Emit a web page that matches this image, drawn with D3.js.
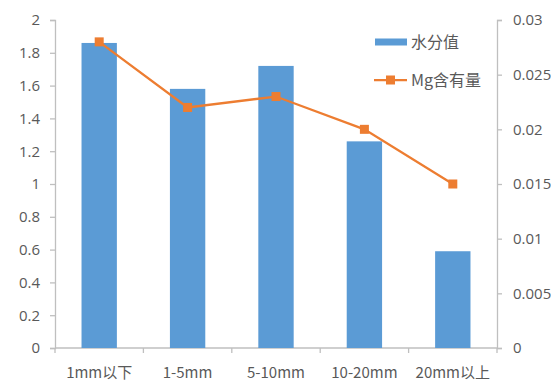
<!DOCTYPE html>
<html>
<head>
<meta charset="utf-8">
<script src="https://cdn.jsdelivr.net/npm/d3@7"></script>
<style>
  html, body { margin: 0; padding: 0; background: #fff; }
  svg { display: block; }
  text { font-family: "Noto Sans CJK SC", "Open Sans", sans-serif; fill: #595959; }
</style>
</head>
<body>
<svg id="chart" width="551" height="381"></svg>
<script>
// Particle size classes
const categories = ["1mm以下", "1-5mm", "5-10mm", "10-20mm", "20mm以上"];
// Moisture value (left axis)
const moisture = [1.86, 1.58, 1.72, 1.26, 0.59];
// Mg content (right axis)
const mgContent = [0.028, 0.022, 0.023, 0.020, 0.015];
const leftTicks = [0, 0.2, 0.4, 0.6, 0.8, 1, 1.2, 1.4, 1.6, 1.8, 2];
const rightTicks = [0, 0.005, 0.01, 0.015, 0.02, 0.025, 0.03];
const seriesNames = ["水分值", "Mg含有量"];

const barColor = "#5b9bd5";
const lineColor = "#ed7d31";
const axisColor = "#bfbfbf";

const svg = d3.select("#chart");
const plot = { left: 55, right: 497, top: 20, bottom: 348 };

const x = d3.scaleBand().domain(categories).range([plot.left, plot.right]).paddingInner(0.6).paddingOuter(0.3);
const xOuter = d3.scaleBand().domain(categories).range([plot.left, plot.right]);
const yL = d3.scaleLinear().domain([0, 2]).range([plot.bottom, plot.top]);
const yR = d3.scaleLinear().domain([0, 0.03]).range([plot.bottom, plot.top]);

// Left axis
const leftAxis = svg.append("g").attr("transform", `translate(${plot.left},0)`)
  .call(d3.axisLeft(yL).tickValues(leftTicks).tickSize(5).tickPadding(10).tickFormat(d3.format("~g")));
// Right axis
const rightAxis = svg.append("g").attr("transform", `translate(${plot.right},0)`)
  .call(d3.axisRight(yR).tickValues(rightTicks).tickSize(5).tickPadding(11).tickFormat(d3.format("~g")));
[leftAxis, rightAxis].forEach(g => {
  g.select(".domain").attr("stroke", axisColor).attr("stroke-width", 1.3);
  g.selectAll(".tick line").attr("stroke", axisColor).attr("stroke-width", 1.3);
  g.selectAll(".tick text").attr("fill", "#595959").style("font-size", "15px")
    .style("font-family", "'Open Sans', sans-serif");
});

// Bottom axis with ticks between categories
const boundaries = categories.map(c => xOuter(c)).concat([plot.right]);
const bottom = svg.append("g");
bottom.append("line").attr("x1", plot.left).attr("x2", plot.right)
  .attr("y1", plot.bottom).attr("y2", plot.bottom).attr("stroke", axisColor).attr("stroke-width", 1.3);
bottom.selectAll("line.tk").data(boundaries).join("line").attr("class", "tk")
  .attr("x1", d => d).attr("x2", d => d).attr("y1", plot.bottom).attr("y2", plot.bottom + 5)
  .attr("stroke", axisColor).attr("stroke-width", 1.3);
bottom.selectAll("text").data(categories).join("text")
  .attr("x", d => xOuter(d) + xOuter.bandwidth() / 2)
  .attr("y", 378).attr("text-anchor", "middle")
  .style("font-size", "15px").text(d => d);

// Bars
svg.append("g").selectAll("rect").data(categories).join("rect")
  .attr("x", d => x(d))
  .attr("width", x.bandwidth())
  .attr("y", (d, i) => yL(moisture[i]))
  .attr("height", (d, i) => yL(0) - yL(moisture[i]))
  .attr("fill", barColor);

// Line
const cx = d => xOuter(d) + xOuter.bandwidth() / 2;
const line = d3.line().x((d, i) => cx(categories[i])).y(d => yR(d));
svg.append("path").datum(mgContent).attr("d", line)
  .attr("fill", "none").attr("stroke", lineColor).attr("stroke-width", 2.25);
svg.append("g").selectAll("rect").data(mgContent).join("rect")
  .attr("x", (d, i) => cx(categories[i]) - 4.5)
  .attr("y", d => yR(d) - 4.5)
  .attr("width", 9).attr("height", 9).attr("fill", lineColor);

// Legend
const lg = svg.append("g");
lg.append("rect").attr("x", 375).attr("y", 38.5).attr("width", 32).attr("height", 7).attr("fill", barColor);
lg.append("text").attr("x", 411).attr("y", 48).style("font-size", "16px").text(seriesNames[0]);
lg.append("line").attr("x1", 374).attr("x2", 407).attr("y1", 80).attr("y2", 80)
  .attr("stroke", lineColor).attr("stroke-width", 2.25);
lg.append("rect").attr("x", 386).attr("y", 75.5).attr("width", 9).attr("height", 9).attr("fill", lineColor);
lg.append("text").attr("x", 411).attr("y", 86).style("font-size", "16px").text(seriesNames[1]);
</script>
</body>
</html>
